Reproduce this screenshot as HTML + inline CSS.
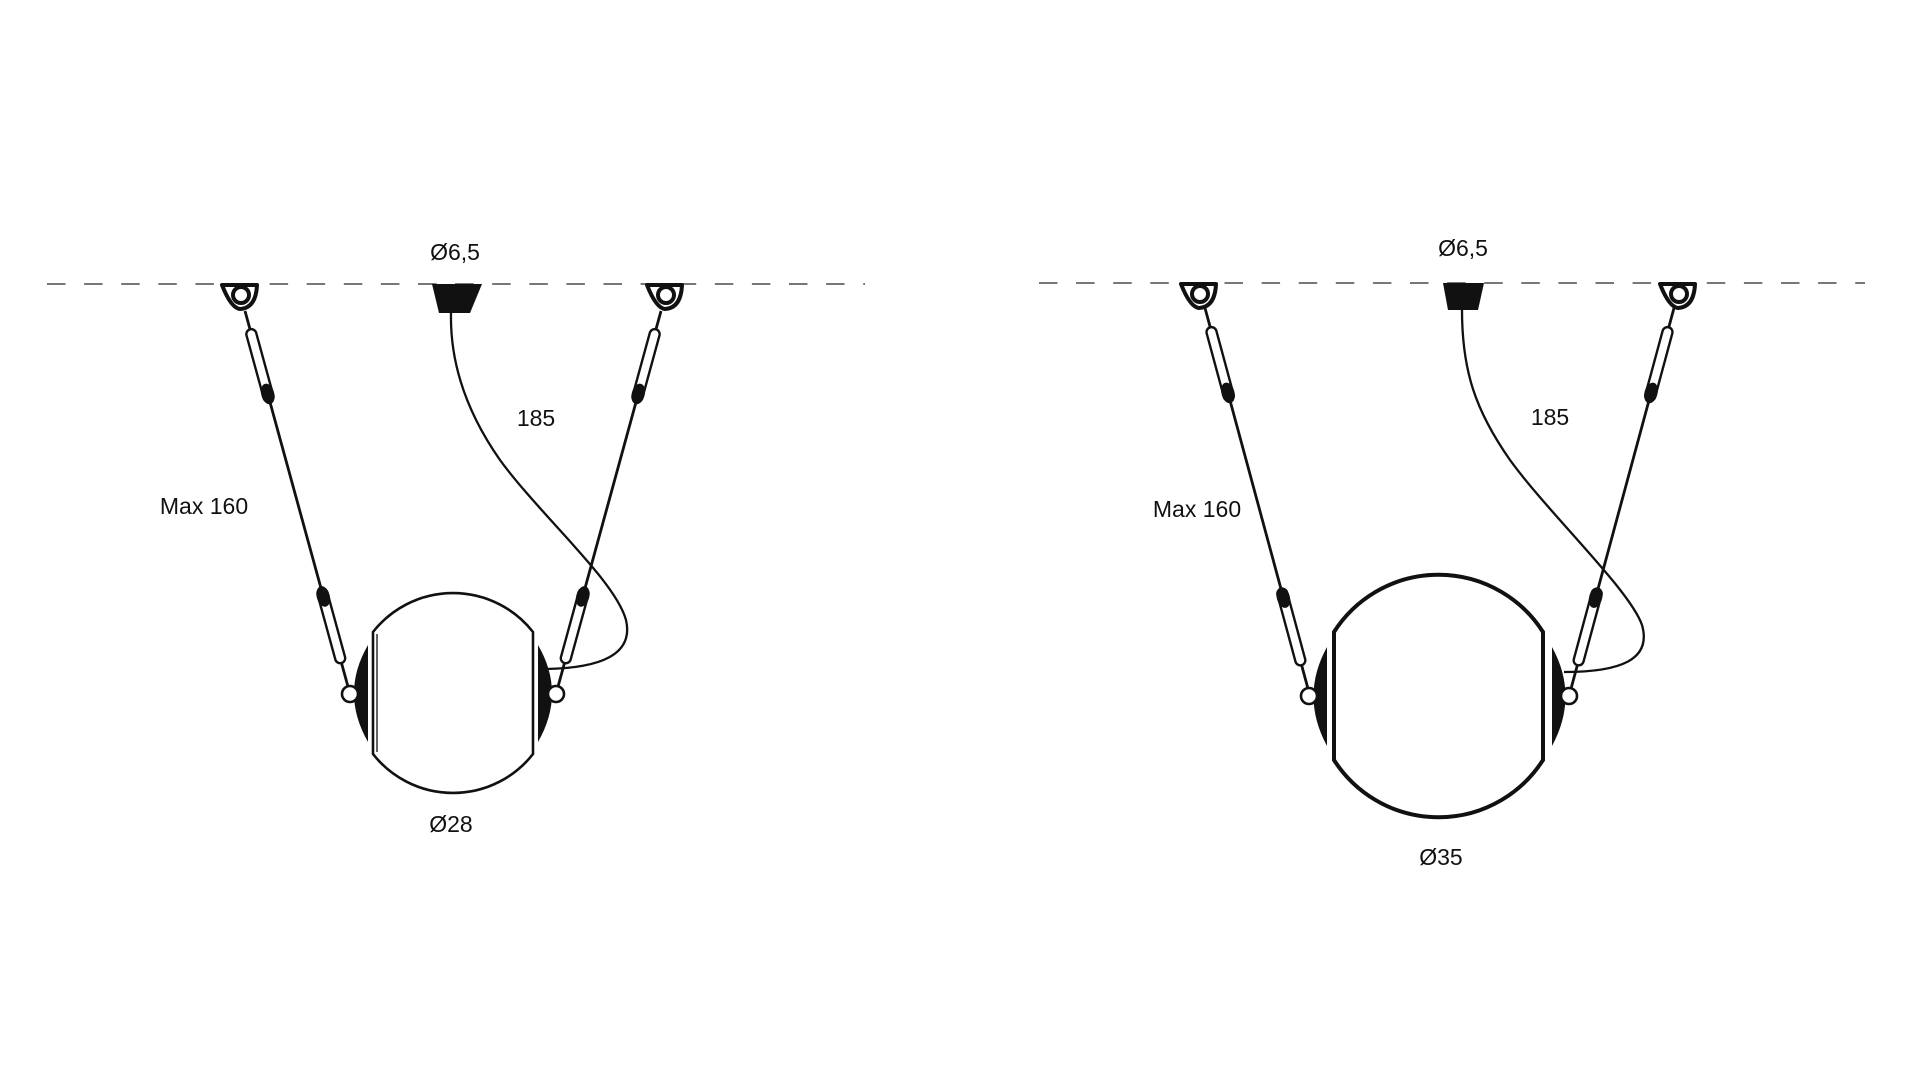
<!DOCTYPE html>
<html><head><meta charset="utf-8"><style>
html,body{margin:0;padding:0;background:#fff;}
svg{display:block;}
text{font-family:"Liberation Sans",sans-serif;font-size:23px;fill:#111;}
</style></head><body>
<svg width="1920" height="1080" viewBox="0 0 1920 1080" xmlns="http://www.w3.org/2000/svg">
<defs>
<g id="hook"><path d="M-17,1 L18,1 Q17,24 1,25 Q-8,24 -17,1 Z" fill="#fff" stroke="#111" stroke-width="4" stroke-linejoin="round"/><circle cx="2" cy="11" r="8" fill="#fff" stroke="#111" stroke-width="4"/></g>
<g id="tbL" stroke="#111">
<rect x="19" y="-5" width="75" height="10" rx="5" fill="#fff" stroke-width="2.4"/>
<ellipse cx="86" cy="0" rx="10" ry="6" fill="#111"/>
<rect x="288" y="-5" width="77" height="10" rx="5" fill="#fff" stroke-width="2.4"/>
<ellipse cx="296" cy="0" rx="10" ry="6" fill="#111"/>
</g>
<g id="tbR" stroke="#111">
<rect x="20" y="-5" width="76" height="10" rx="5" fill="#fff" stroke-width="2.4"/>
<ellipse cx="88" cy="0" rx="10" ry="6" fill="#111"/>
<rect x="291" y="-5" width="79" height="10" rx="5" fill="#fff" stroke-width="2.4"/>
<ellipse cx="300" cy="0" rx="10" ry="6" fill="#111"/>
</g>
</defs>
<line x1="47" y1="284" x2="865" y2="284" stroke="#777" stroke-width="2" stroke-dasharray="18.5,18.6"/>
<line x1="1039" y1="283" x2="1865" y2="283" stroke="#777" stroke-width="2" stroke-dasharray="18.5,18.6"/>

<!-- LEFT -->
<use href="#hook" x="239" y="284"/>
<use href="#hook" x="664" y="284"/>
<path d="M432,284 L482,284 L470,313 L439,313 Z" fill="#111"/>
<g transform="translate(245,311) rotate(74.67)">
<line x1="0" y1="0" x2="389" y2="0" stroke="#111" stroke-width="2.8"/>
<use href="#tbL"/>
</g>
<g transform="translate(661,311) rotate(105.33)">
<line x1="0" y1="0" x2="389" y2="0" stroke="#111" stroke-width="2.8"/>
<use href="#tbL"/>
</g>
<path d="M451,313 C450,360 465,410 500,460 C540,515 615,580 626,620 C634,655 600,668 546,669" fill="none" stroke="#111" stroke-width="2.3"/>
<path d="M373,632 A101.6,101.6 0 0 1 533,632 L533,754 A101.6,101.6 0 0 1 373,754 Z" fill="#fff" stroke="#111" stroke-width="2.6"/>
<line x1="377" y1="634" x2="377" y2="752" stroke="#111" stroke-width="1.3"/>
<path d="M368,645 Q340,693 368,742 Z" fill="#111"/>
<path d="M538,645 Q566,693 538,742 Z" fill="#111"/>
<circle cx="350" cy="694" r="8" fill="#fff" stroke="#111" stroke-width="2.6"/>
<circle cx="556" cy="694" r="8" fill="#fff" stroke="#111" stroke-width="2.6"/>
<text x="455" y="260" text-anchor="middle">Ø6,5</text>
<text x="536" y="426" text-anchor="middle">185</text>
<text x="204" y="514" text-anchor="middle">Max 160</text>
<text x="451" y="832" text-anchor="middle">Ø28</text>

<!-- RIGHT -->
<use href="#hook" x="1198" y="283"/>
<use href="#hook" x="1677" y="283"/>
<path d="M1443,283 L1484,283 L1478,310 L1448,310 Z" fill="#111"/>
<g transform="translate(1205,308) rotate(74.86)">
<line x1="0" y1="0" x2="394" y2="0" stroke="#111" stroke-width="2.8"/>
<use href="#tbR"/>
</g>
<g transform="translate(1674,308) rotate(105.14)">
<line x1="0" y1="0" x2="394" y2="0" stroke="#111" stroke-width="2.8"/>
<use href="#tbR"/>
</g>
<path d="M1462,310 C1462,370 1475,410 1510,460 C1550,515 1630,590 1642,625 C1652,660 1620,672 1564,672" fill="none" stroke="#111" stroke-width="2.3"/>
<path d="M1334,632 A124,124 0 0 1 1543,632 L1543,760 A124,124 0 0 1 1334,760 Z" fill="#fff" stroke="#111" stroke-width="4"/>
<path d="M1327,647 Q1300,696 1327,746 Z" fill="#111"/>
<path d="M1552,647 Q1579,696 1552,746 Z" fill="#111"/>
<circle cx="1309" cy="696" r="8" fill="#fff" stroke="#111" stroke-width="2.6"/>
<circle cx="1569" cy="696" r="8" fill="#fff" stroke="#111" stroke-width="2.6"/>
<text x="1463" y="256" text-anchor="middle">Ø6,5</text>
<text x="1550" y="425" text-anchor="middle">185</text>
<text x="1197" y="517" text-anchor="middle">Max 160</text>
<text x="1441" y="865" text-anchor="middle">Ø35</text>
</svg>
</body></html>
